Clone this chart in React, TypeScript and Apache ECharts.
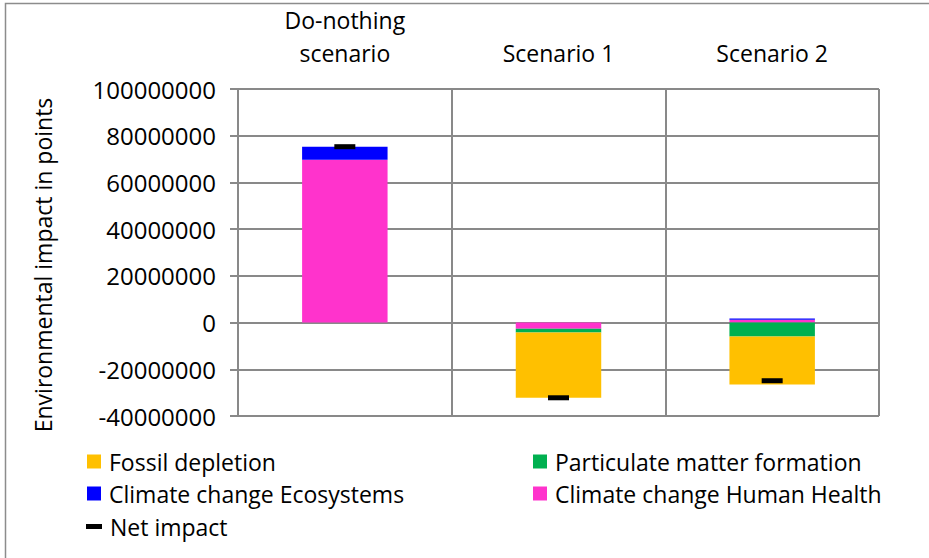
import React, { useEffect, useRef } from "react";
import * as echarts from "echarts";

const categories = ["Do-nothing\nscenario", "Scenario 1", "Scenario 2"];
const climateHumanHealth = [69700000, -2600000, 1200000];
const climateEcosystems = [5600000, 0, 500000];
const particulateMatter = [0, -1700000, -6000000];
const fossilDepletion = [0, -27900000, -20500000];
const netImpact = [75300000, -32200000, -24900000];
const yTicks = { min: -40000000, max: 100000000, interval: 20000000 };
const yAxisTitle = "Environmental impact in points";

const FONT = "'Open Sans', Lato, sans-serif";
const GRID = "#898989";

export default function App() {
  const ref = useRef<HTMLDivElement>(null);
  useEffect(() => {
    if (!ref.current) return;
    const chart = echarts.init(ref.current, null, { renderer: "svg" });
    const legendText = { fontSize: 23, color: "#000", fontFamily: FONT, padding: [0, 0, 0, 3] };
    const mkLegend = (name: string, left: number, top: number, icon = "rect", w = 14, h = 14) => ({
      data: [{ name, icon }],
      left,
      top,
      padding: 0,
      itemWidth: w,
      itemHeight: h,
      textStyle: legendText,
      selectedMode: false,
    });
    chart.setOption({
      animation: false,
      textStyle: { fontFamily: FONT },
      grid: { left: 238, right: 50, top: 89, bottom: 142, containLabel: false },
      graphic: [
        {
          type: "rect",
          shape: { x: 5.5, y: 3.5, width: 1000, height: 1000 },
          style: { fill: "none", stroke: "#8c8c8c", lineWidth: 1.5 },
          silent: true,
        },
        {
          type: "text",
          x: 43,
          y: 265,
          rotation: Math.PI / 2,
          style: {
            text: yAxisTitle,
            fill: "#000",
            font: `23px ${FONT}`,
            align: "center",
            verticalAlign: "middle",
          },
          silent: true,
        },
      ],
      legend: [
        mkLegend("Fossil depletion", 87, 450),
        mkLegend("Climate change Ecosystems", 87, 482),
        mkLegend("Net impact", 86, 515, "rect", 16, 5),
        mkLegend("Particulate matter formation", 533, 450),
        mkLegend("Climate change Human Health", 533, 482),
      ],
      xAxis: {
        type: "category",
        data: categories,
        position: "top",
        axisLine: { show: true, lineStyle: { color: GRID, width: 2 } },
        axisTick: { show: false },
        splitLine: { show: true, lineStyle: { color: GRID, width: 2 } },
        axisLabel: { color: "#000", fontSize: 23, lineHeight: 33, margin: 20, fontFamily: FONT },
      },
      yAxis: {
        type: "value",
        min: yTicks.min,
        max: yTicks.max,
        interval: yTicks.interval,
        axisLine: { show: true, lineStyle: { color: GRID, width: 2 } },
        axisTick: { show: true, length: 8, lineStyle: { color: GRID, width: 2 } },
        splitLine: { show: true, lineStyle: { color: GRID, width: 2 } },
        axisLabel: {
          color: "#000",
          fontSize: 24,
          margin: 22,
          fontFamily: FONT,
          formatter: (v: number) => String(v),
        },
      },
      series: [
        { name: "Climate change Human Health", type: "bar", stack: "total", barWidth: "40%", data: climateHumanHealth, itemStyle: { color: "#FF33CC" } },
        { name: "Climate change Ecosystems", type: "bar", stack: "total", data: climateEcosystems, itemStyle: { color: "#0000FF" } },
        { name: "Particulate matter formation", type: "bar", stack: "total", data: particulateMatter, itemStyle: { color: "#00B050" } },
        { name: "Fossil depletion", type: "bar", stack: "total", data: fossilDepletion, itemStyle: { color: "#FFC000" } },
        {
          name: "Net impact",
          type: "scatter",
          data: netImpact,
          symbol: "rect",
          symbolSize: [21, 5],
          itemStyle: { color: "#000", opacity: 1 },
          z: 10,
        },
      ],
    });
    return () => chart.dispose();
  }, []);
  return (
    <div
      ref={ref}
      style={{ position: "fixed", left: 0, top: 0, width: 929, height: 558, background: "#fff" }}
    />
  );
}
